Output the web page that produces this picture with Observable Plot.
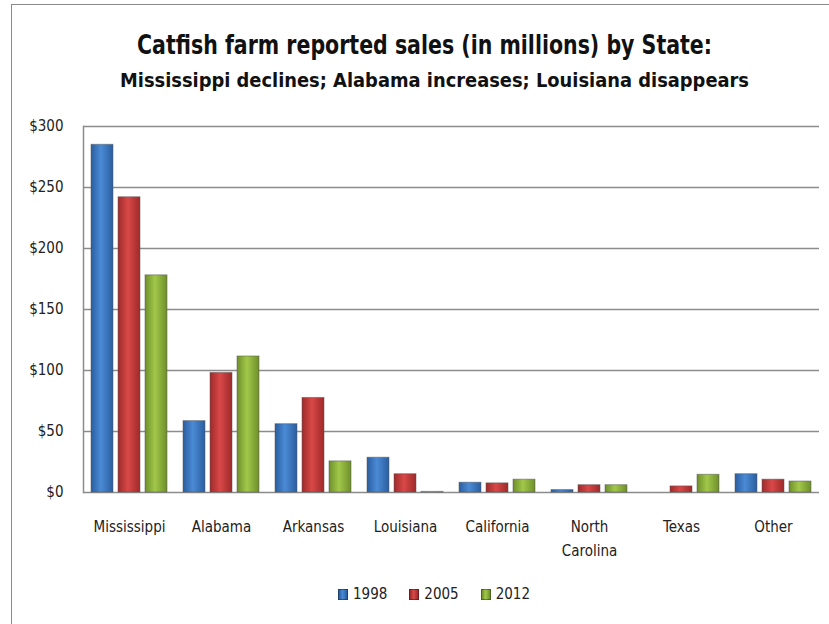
<!DOCTYPE html>
<html>
<head>
<meta charset="utf-8">
<script src="https://cdn.jsdelivr.net/npm/d3@7"></script>
<script src="https://cdn.jsdelivr.net/npm/@observablehq/plot@0.6"></script>
<style>
  html, body { margin: 0; padding: 0; width: 829px; height: 624px; overflow: hidden; background: #fff; }
  #box { position: absolute; left: 11px; top: 4px; width: 900px; height: 700px; border: 1.5px solid #8a8a8a; box-sizing: border-box; }
  .ttl { position: absolute; display: inline-block; font-family: "DejaVu Sans Condensed", "Liberation Sans", sans-serif; font-weight: bold; color: #111; white-space: nowrap; transform-origin: 0 0; line-height: 1; }
  #title { top: 31px; font-size: 27px; }
  #subtitle { top: 71px; font-size: 19px; }
  #chart { position: absolute; left: 0; top: 100px; }
  #legend { position: absolute; top: 585px; left: 338px; display: flex; gap: 22px; font-family: "DejaVu Sans Condensed", sans-serif; font-size: 15px; color: #222; }
  .item { display: flex; align-items: center; gap: 5px; }
  .sw { width: 10px; height: 11px; border: 1px solid rgba(0,0,0,0.35); box-sizing: border-box; }
</style>
</head>
<body>
<div id="box"></div>
<span class="ttl" id="title">Catfish farm reported sales (in millions) by State:</span>
<span class="ttl" id="subtitle">Mississippi declines; Alabama increases; Louisiana disappears</span>
<div id="chart"></div>
<div id="legend"></div>
<script>
// ---- data ----
const states = ["Mississippi", "Alabama", "Arkansas", "Louisiana", "California", "North Carolina", "Texas", "Other"];
const years = ["1998", "2005", "2012"];
const sales1998 = [285, 58.5, 56, 28.5, 8, 2, 0, 15];
const sales2005 = [242, 98, 77.5, 15, 7.5, 6, 5, 10.5];
const sales2012 = [178, 111.5, 25.5, 0.5, 10.5, 6, 14.5, 9];
const yTicks = [0, 50, 100, 150, 200, 250, 300];

const series = [sales1998, sales2005, sales2012];
const data = [];
states.forEach((s, i) => years.forEach((y, j) => data.push({state: s, year: y, value: series[j][i]})));

const gradDefs = [
  ["g1998", "#2a5e9f", "#4b8ad6", "#2a5e9f"],
  ["g2005", "#9e2a2a", "#d94848", "#9e2a2a"],
  ["g2012", "#6e8f2a", "#a2c84a", "#6e8f2a"]
];

const font = '"DejaVu Sans Condensed", "Liberation Sans", sans-serif';

const chart = Plot.plot({
  width: 829,
  height: 462,
  marginLeft: 80,
  marginRight: 7,
  marginTop: 26,
  marginBottom: 70,
  style: {fontFamily: font, fontSize: "15px", color: "#222", background: "transparent"},
  fx: {domain: states, padding: 0, label: null},
  x: {domain: years, paddingInner: 0.2, paddingOuter: 0.29, axis: null},
  y: {domain: [0, 300], label: null},
  marks: [
    Plot.gridY({ticks: yTicks, stroke: "#8c8c8c", strokeOpacity: 1, strokeWidth: 1.5}),
    Plot.frame({anchor: "left", facetAnchor: "left", stroke: "#8c8c8c", strokeWidth: 1.5}),
    ...years.map((yr) => Plot.barY(data.filter(d => d.year === yr), {
      fx: "state", x: "year", y: "value",
      fill: `url(#g${yr})`, stroke: "#555", strokeOpacity: 0.5, strokeWidth: 1
    })),
    Plot.axisY({ticks: yTicks, tickFormat: d => "$" + d, tickSize: 0, tickPadding: 20, fontSize: 15, label: null}),
    Plot.axisFx({anchor: "bottom", tickSize: 0, tickPadding: 22, fontSize: 15, label: null, lineHeight: 1.6,
      tickFormat: d => d === "North Carolina" ? "North\nCarolina" : d})
  ]
});

const ns = "http://www.w3.org/2000/svg";
const defs = document.createElementNS(ns, "defs");
gradDefs.forEach(([id, a, b, c]) => {
  const g = document.createElementNS(ns, "linearGradient");
  g.setAttribute("id", id);
  g.setAttribute("x1", "0"); g.setAttribute("x2", "1"); g.setAttribute("y1", "0"); g.setAttribute("y2", "0");
  [[0, a], [0.45, b], [1, c]].forEach(([o, col]) => {
    const st = document.createElementNS(ns, "stop");
    st.setAttribute("offset", o);
    st.setAttribute("stop-color", col);
    g.appendChild(st);
  });
  defs.appendChild(g);
});
chart.insertBefore(defs, chart.firstChild);
document.getElementById("chart").appendChild(chart);

// fit titles to the reference's horizontal extent
function fit(id, left, right) {
  const el = document.getElementById(id);
  const w = el.getBoundingClientRect().width;
  const k = (right - left) / w;
  el.style.left = left + "px";
  el.style.transform = `scaleX(${k})`;
}
fit("title", 137, 712);
fit("subtitle", 120, 749);

// legend
const legend = document.getElementById("legend");
years.forEach((yr, j) => {
  const it = document.createElement("div");
  it.className = "item";
  const sw = document.createElement("div");
  sw.className = "sw";
  sw.style.background = `linear-gradient(90deg, ${gradDefs[j][1]}, ${gradDefs[j][2]} 45%, ${gradDefs[j][3]})`;
  const tx = document.createElement("span");
  tx.textContent = yr;
  it.appendChild(sw); it.appendChild(tx);
  legend.appendChild(it);
});
</script>
</body>
</html>
